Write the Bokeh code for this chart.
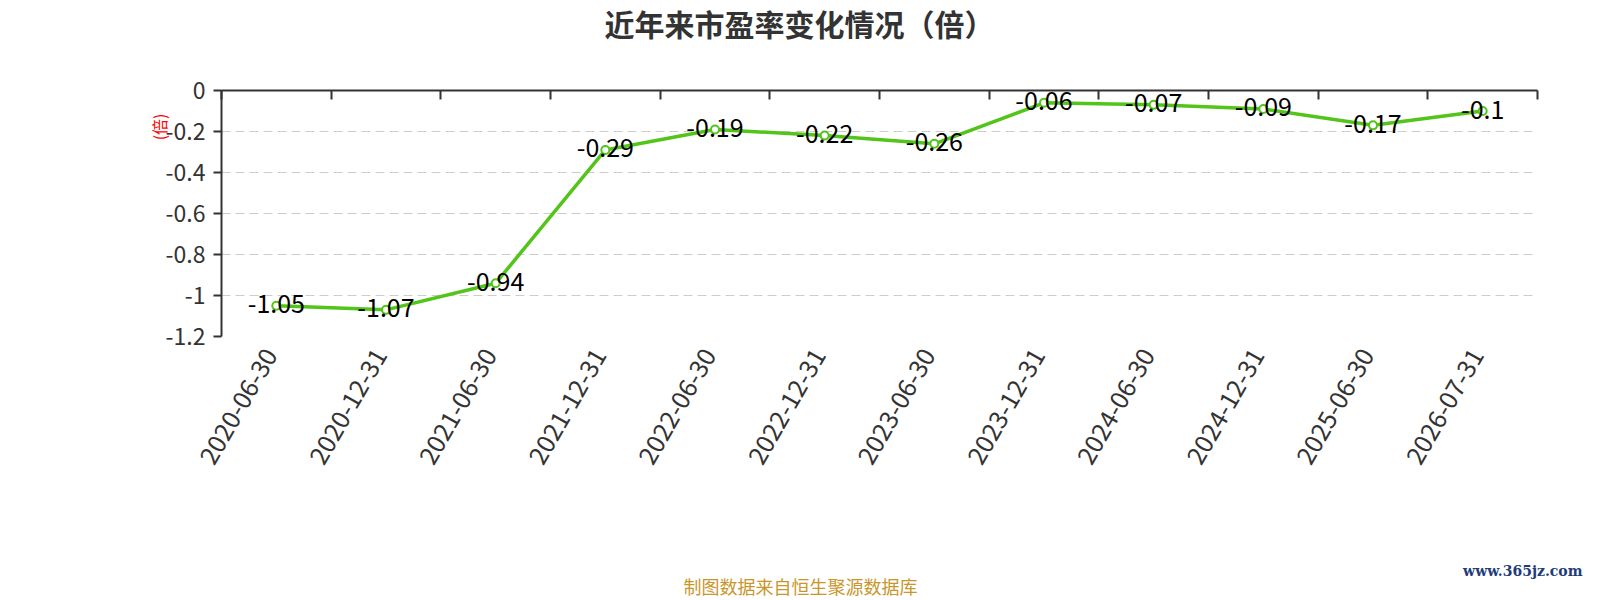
import math
from bokeh.plotting import figure
from bokeh.models import (Range1d, FixedTicker, LinearAxis, LabelSet, Title,
                          ColumnDataSource, CustomJSTickFormatter, Grid)
from bokeh.core.properties import value
from bokeh.embed import file_html
from bokeh.resources import INLINE

dates = ["2020-06-30", "2020-12-31", "2021-06-30", "2021-12-31", "2022-06-30",
         "2022-12-31", "2023-06-30", "2023-12-31", "2024-06-30", "2024-12-31",
         "2025-06-30", "2026-07-31"]
pe = [-1.05, -1.07, -0.94, -0.29, -0.19, -0.22, -0.26, -0.06, -0.07, -0.09, -0.17, -0.1]
y_ticks = [0, -0.2, -0.4, -0.6, -0.8, -1.0, -1.2]
title_text = "近年来市盈率变化情况（倍）"
unit_text = "(倍)"
source_text = "制图数据来自恒生聚源数据库"
watermark_text = "www.365jz.com"

FONT = "Noto Sans CJK SC"
GREEN = "#52c41a"
DARK = "#333333"

xs = [i + 0.5 for i in range(len(dates))]
labels = ["%g" % v for v in pe]
src = ColumnDataSource(dict(x=xs, y=pe, label=labels))

p = figure(frame_width=1316, frame_height=246,
           min_border_left=221, min_border_right=47,
           min_border_top=90, min_border_bottom=264,
           x_range=Range1d(0, len(dates)), y_range=Range1d(-1.2, 0),
           x_axis_location=None, y_axis_location=None,
           title=title_text,
           output_backend="svg", toolbar_location=None)
p.outline_line_color = None
p.background_fill_color = "white"
p.border_fill_color = "white"
p.grid.visible = False

p.title.align = "left"
p.title.offset = 383
p.title.standoff = -6
p.title.text_font = FONT
p.title.text_font_size = "30px"
p.title.text_font_style = "bold"
p.title.text_color = DARK

# grid
p.add_layout(Grid(dimension=1, ticker=FixedTicker(ticks=y_ticks),
                  grid_line_color="#cccccc", grid_line_dash="9 5", grid_line_width=1))

# left axis
yax = LinearAxis(ticker=FixedTicker(ticks=y_ticks),
                 formatter=CustomJSTickFormatter(code="return (Math.round(tick*10)/10).toString();"),
                 axis_line_color=DARK, axis_line_width=2,
                 major_tick_line_color=DARK, major_tick_line_width=2,
                 major_tick_out=8, major_tick_in=0,
                 minor_tick_line_color=None,
                 major_label_standoff=8,
                 major_label_text_font=FONT, major_label_text_font_size="23px",
                 major_label_text_color=DARK)
p.add_layout(yax, "left")
p.add_layout(Title(text=unit_text, align="right", offset=23, standoff=-16,
                   text_font=FONT, text_font_size="16px", text_font_style="normal",
                   text_color="red"), "left")

# top axis line (at zero) with boundary ticks; invisible axis label only reserves space
xtop = LinearAxis(ticker=FixedTicker(ticks=list(range(len(dates) + 1))),
                  axis_line_color=DARK, axis_line_width=2,
                  major_tick_line_color=DARK, major_tick_line_width=2,
                  major_tick_in=9, major_tick_out=0, major_label_standoff=0,
                  minor_tick_line_color=None,
                  major_label_text_color=None, major_label_text_font_size="1px",
                  axis_label=".", axis_label_text_color=None,
                  axis_label_text_font_size="10px", axis_label_standoff=38)
p.add_layout(xtop, "above")

# bottom category labels
xb = LinearAxis(ticker=FixedTicker(ticks=[x - 0.055 for x in xs]),
                formatter=CustomJSTickFormatter(args=dict(dates=dates),
                                                code="return dates[Math.floor(tick)];"),
                axis_line_color=None, major_tick_line_color=None, minor_tick_line_color=None,
                major_label_orientation=math.pi / 3, major_label_standoff=8,
                major_label_text_font=FONT, major_label_text_font_size="25px",
                major_label_text_color=DARK,
                axis_label=".", axis_label_text_color=None,
                axis_label_text_font_size="10px", axis_label_standoff=83)
p.add_layout(xb, "below")

# line + markers
p.line("x", "y", source=src, line_color=GREEN, line_width=3.5)
p.scatter("x", "y", source=src, size=8, fill_color="white", line_color=GREEN, line_width=2)

p.add_layout(LabelSet(x="x", y="y", text="label", source=src,
                      text_align="center", text_baseline="middle", y_offset=2,
                      text_font=value(FONT), text_font_size="25px", text_color="black"))

# watermark and footer
p.add_layout(Title(text=watermark_text, align="right", offset=-45, standoff=-16,
                   text_font="DejaVu Serif", text_font_size="14px", text_font_style="bold",
                   text_color="#1f3c7a"), "below")
p.add_layout(Title(text=source_text, align="left", offset=462, standoff=0,
                   text_font=FONT, text_font_size="18px", text_font_style="normal",
                   text_color="#c9962b"), "below")

open("out.html", "w").write(file_html(p, INLINE))
